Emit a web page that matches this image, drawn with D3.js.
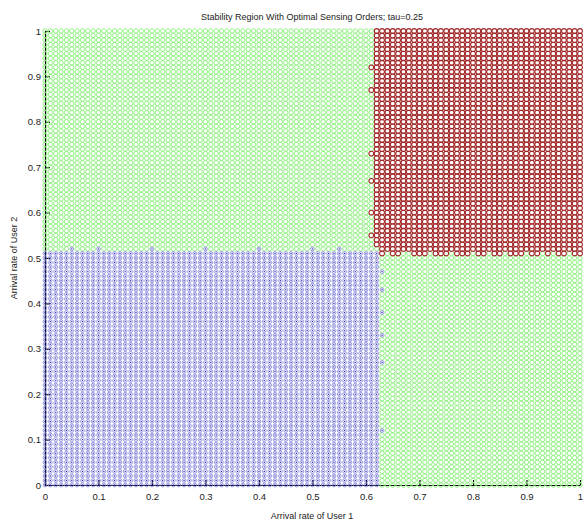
<!DOCTYPE html>
<html>
<head>
<meta charset="utf-8">
<script src="https://cdn.jsdelivr.net/npm/d3@7"></script>
<style>
  body { margin: 0; background: #fff; }
  svg text { font-family: "Liberation Sans", Arial, sans-serif; }
</style>
</head>
<body>
<div id="chart"></div>
<script>
// grid of arrival rates that was swept (both users)
const rates = [0,0.01,0.02,0.03,0.04,0.05,0.06,0.07,0.08,0.09,0.1,0.11,0.12,0.13,0.14,0.15,0.16,0.17,0.18,0.19,
  0.2,0.21,0.22,0.23,0.24,0.25,0.26,0.27,0.28,0.29,0.3,0.31,0.32,0.33,0.34,0.35,0.36,0.37,0.38,0.39,
  0.4,0.41,0.42,0.43,0.44,0.45,0.46,0.47,0.48,0.49,0.5,0.51,0.52,0.53,0.54,0.55,0.56,0.57,0.58,0.59,
  0.6,0.61,0.62,0.63,0.64,0.65,0.66,0.67,0.68,0.69,0.7,0.71,0.72,0.73,0.74,0.75,0.76,0.77,0.78,0.79,
  0.8,0.81,0.82,0.83,0.84,0.85,0.86,0.87,0.88,0.89,0.9,0.91,0.92,0.93,0.94,0.95,0.96,0.97,0.98,0.99,1];

// region limits
const blueLimit = {x: 0.62, y: 0.51};   // both users stable with either order
const redLimit  = {x: 0.62, y: 0.51};   // unstable region
// ragged edge points
const extraBlue = [[0.05,0.52],[0.1,0.52],[0.2,0.52],[0.3,0.52],[0.4,0.52],[0.5,0.52],[0.55,0.52],
                   [0.63,0.27],[0.63,0.33],[0.63,0.38],[0.63,0.43],[0.63,0.47],[0.63,0.12]];
const extraRed = [[0.61,0.92],[0.61,0.73],[0.61,0.67],[0.61,0.6],[0.61,0.55],[0.61,0.87]];
const missingRed = [[0.64,0.51],[0.67,0.51],[0.68,0.51],[0.72,0.51],[0.76,0.51],[0.8,0.51],[0.83,0.51],
                    [0.86,0.51],[0.9,0.51],[0.93,0.51],[0.95,0.51],[0.98,0.51],[0.62,0.51],[0.62,0.52]];

const xTicks = [0,0.1,0.2,0.3,0.4,0.5,0.6,0.7,0.8,0.9,1];
const yTicks = [0,0.1,0.2,0.3,0.4,0.5,0.6,0.7,0.8,0.9,1];

const titleText = 'Stability Region With Optimal Sensing Orders; tau=0.25';
const xLabel = 'Arrival rate of User 1';
const yLabel = 'Arrival rate of User 2';

const width = 583, height = 524;
const margin = {top: 31, right: 3, bottom: 39, left: 45};

const svg = d3.select('#chart').append('svg')
    .attr('width', width)
    .attr('height', height);

const x = d3.scaleLinear().domain([0, 1]).range([margin.left, width - margin.right]);
const y = d3.scaleLinear().domain([0, 1]).range([height - margin.bottom, margin.top]);

// axes first, the markers sit on top of them
const xAxis = svg.append('g')
    .attr('transform', `translate(0,${y(0)})`)
    .call(d3.axisBottom(x).tickValues(xTicks).tickFormat(d3.format('')).tickSizeInner(-5).tickSizeOuter(0).tickPadding(8));
const yAxis = svg.append('g')
    .attr('transform', `translate(${x(0)},0)`)
    .call(d3.axisLeft(y).tickValues(yTicks).tickFormat(d3.format('')).tickSizeInner(-5).tickSizeOuter(0).tickPadding(4));

[xAxis, yAxis].forEach(g => {
  g.select('.domain').attr('stroke', '#000').attr('stroke-width', 1.2);
  g.selectAll('.tick line').attr('stroke', '#000').attr('stroke-width', 1.2);
  g.selectAll('.tick text').attr('font-size', 9.5).attr('fill', '#222');
});

// build the classified grid
const key = (a, b) => a.toFixed(2) + ',' + b.toFixed(2);
const missing = new Set(missingRed.map(p => key(p[0], p[1])));
const extraB = new Set(extraBlue.map(p => key(p[0], p[1])));
const extraR = new Set(extraRed.map(p => key(p[0], p[1])));

const points = [];
rates.forEach(a => {
  rates.forEach(b => {
    const k = key(a, b);
    let cls = 'green';
    if (a <= blueLimit.x + 1e-9 && b <= blueLimit.y + 1e-9) cls = 'blue';
    else if (a >= redLimit.x - 1e-9 && b >= redLimit.y - 1e-9 && !missing.has(k)) cls = 'red';
    if (extraB.has(k)) cls = 'blue';
    if (extraR.has(k)) cls = 'red';
    points.push({a, b, cls});
  });
});

const style = {
  green: {stroke: '#8cf07c', r: 2.2, sw: 0.95},
  blue:  {stroke: '#8080dc', r: 1.9, sw: 0.8},
  red:   {stroke: '#a02424', r: 2.4, sw: 1.05}
};

const marks = svg.append('g').attr('class', 'marks');
['green', 'blue', 'red'].forEach(c => {
  marks.selectAll('.m-' + c)
    .data(points.filter(p => p.cls === c))
    .enter()
    .append('circle')
    .attr('class', 'm-' + c)
    .attr('cx', d => x(d.a))
    .attr('cy', d => y(d.b))
    .attr('r', style[c].r)
    .attr('fill', 'none')
    .attr('stroke', style[c].stroke)
    .attr('stroke-width', style[c].sw);
});

// blue markers also have a centre dot
marks.selectAll('.m-dot')
  .data(points.filter(p => p.cls === 'blue'))
  .enter()
  .append('circle')
  .attr('cx', d => x(d.a))
  .attr('cy', d => y(d.b))
  .attr('r', 0.7)
  .attr('fill', '#2828a8');

svg.append('text')
    .attr('x', 312).attr('y', 20)
    .attr('text-anchor', 'middle')
    .attr('font-size', 9)
    .attr('fill', '#222')
    .text(titleText);

svg.append('text')
    .attr('x', 312).attr('y', 519)
    .attr('text-anchor', 'middle')
    .attr('font-size', 9)
    .attr('fill', '#222')
    .text(xLabel);

svg.append('text')
    .attr('transform', `translate(17,${y(0.5)}) rotate(-90)`)
    .attr('text-anchor', 'middle')
    .attr('font-size', 9)
    .attr('fill', '#222')
    .text(yLabel);
</script>
</body>
</html>
